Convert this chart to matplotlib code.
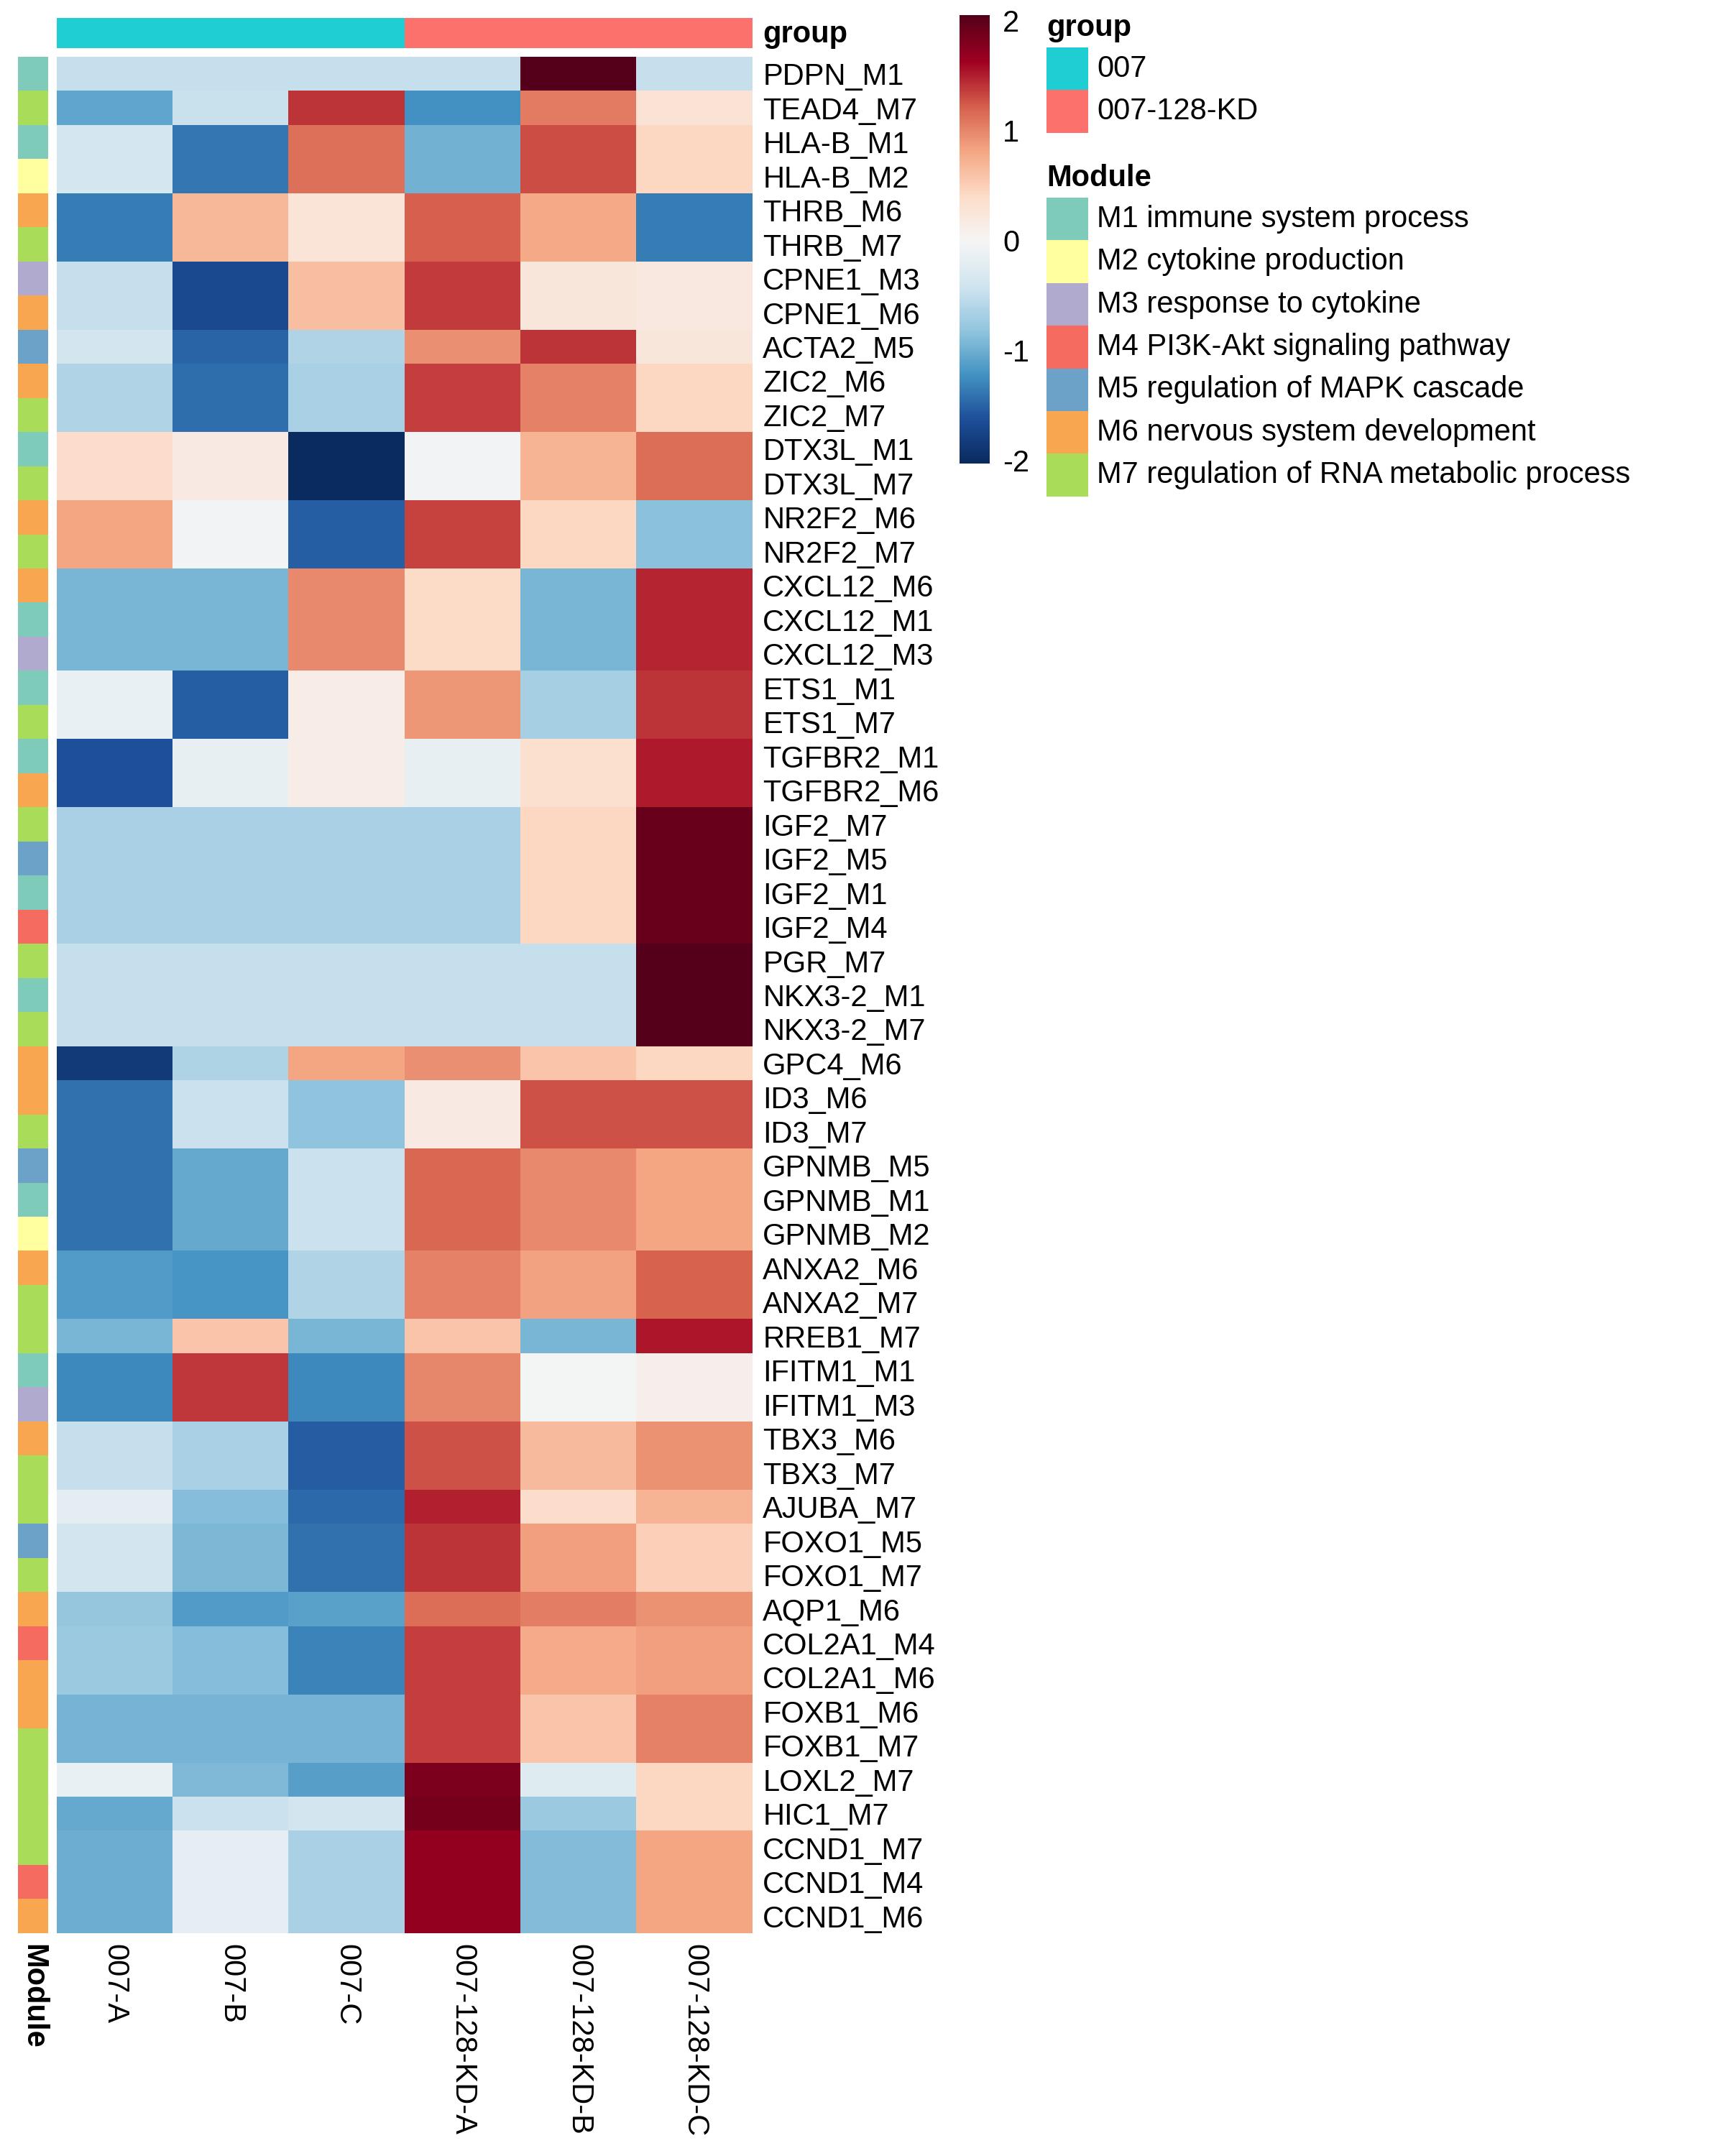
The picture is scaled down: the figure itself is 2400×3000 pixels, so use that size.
import numpy as np
import matplotlib
matplotlib.use("Agg")
import matplotlib.pyplot as plt
import matplotlib.patches as patches
from matplotlib.colors import ListedColormap, Normalize, LinearSegmentedColormap

plt.rcParams["font.family"] = ["Liberation Sans", "DejaVu Sans"]
plt.rcParams["axes.unicode_minus"] = False

samples = ["007-A", "007-B", "007-C", "007-128-KD-A", "007-128-KD-B", "007-128-KD-C"]
sample_group = ["007", "007", "007", "007-128-KD", "007-128-KD", "007-128-KD"]

rows = [
    "PDPN_M1", "TEAD4_M7", "HLA-B_M1", "HLA-B_M2", "THRB_M6", "THRB_M7",
    "CPNE1_M3", "CPNE1_M6", "ACTA2_M5", "ZIC2_M6", "ZIC2_M7", "DTX3L_M1",
    "DTX3L_M7", "NR2F2_M6", "NR2F2_M7", "CXCL12_M6", "CXCL12_M1", "CXCL12_M3",
    "ETS1_M1", "ETS1_M7", "TGFBR2_M1", "TGFBR2_M6", "IGF2_M7", "IGF2_M5",
    "IGF2_M1", "IGF2_M4", "PGR_M7", "NKX3-2_M1", "NKX3-2_M7", "GPC4_M6",
    "ID3_M6", "ID3_M7", "GPNMB_M5", "GPNMB_M1", "GPNMB_M2", "ANXA2_M6",
    "ANXA2_M7", "RREB1_M7", "IFITM1_M1", "IFITM1_M3", "TBX3_M6", "TBX3_M7",
    "AJUBA_M7", "FOXO1_M5", "FOXO1_M7", "AQP1_M6", "COL2A1_M4", "COL2A1_M6",
    "FOXB1_M6", "FOXB1_M7", "LOXL2_M7", "HIC1_M7", "CCND1_M7", "CCND1_M4",
    "CCND1_M6",
]

# z-scores per row (007-A, 007-B, 007-C, KD-A, KD-B, KD-C)
values = [
    [-0.47, -0.47, -0.47, -0.47, 2.05, -0.47],
    [-1.06, -0.46, 1.41, -1.22, 1.05, 0.29],
    [-0.37, -1.38, 1.12, -0.97, 1.29, 0.43],
    [-0.37, -1.38, 1.12, -0.97, 1.29, 0.43],
    [-1.36, 0.67, 0.26, 1.22, 0.79, -1.36],
    [-1.36, 0.67, 0.26, 1.22, 0.79, -1.36],
    [-0.47, -1.69, 0.62, 1.38, 0.23, 0.20],
    [-0.47, -1.69, 0.62, 1.38, 0.23, 0.20],
    [-0.38, -1.50, -0.62, 0.94, 1.41, 0.23],
    [-0.62, -1.43, -0.67, 1.36, 1.02, 0.43],
    [-0.62, -1.43, -0.67, 1.36, 1.02, 0.43],
    [0.37, 0.16, -2.00, -0.03, 0.71, 1.13],
    [0.37, 0.16, -2.00, -0.03, 0.71, 1.13],
    [0.81, -0.03, -1.53, 1.34, 0.43, -0.85],
    [0.81, -0.03, -1.53, 1.34, 0.43, -0.85],
    [-0.94, -0.94, 0.98, 0.40, -0.94, 1.47],
    [-0.94, -0.94, 0.98, 0.40, -0.94, 1.47],
    [-0.94, -0.94, 0.98, 0.40, -0.94, 1.47],
    [-0.12, -1.53, 0.13, 0.89, -0.68, 1.40],
    [-0.12, -1.53, 0.13, 0.89, -0.68, 1.40],
    [-1.62, -0.14, 0.13, -0.14, 0.34, 1.51],
    [-1.62, -0.14, 0.13, -0.14, 0.34, 1.51],
    [-0.66, -0.66, -0.66, -0.66, 0.43, 1.95],
    [-0.66, -0.66, -0.66, -0.66, 0.43, 1.95],
    [-0.66, -0.66, -0.66, -0.66, 0.43, 1.95],
    [-0.66, -0.66, -0.66, -0.66, 0.43, 1.95],
    [-0.47, -0.47, -0.47, -0.47, -0.47, 2.05],
    [-0.47, -0.47, -0.47, -0.47, -0.47, 2.05],
    [-0.47, -0.47, -0.47, -0.47, -0.47, 2.05],
    [-1.85, -0.64, 0.81, 0.95, 0.58, 0.43],
    [-1.42, -0.45, -0.83, 0.16, 1.27, 1.27],
    [-1.42, -0.45, -0.83, 0.16, 1.27, 1.27],
    [-1.42, -1.03, -0.44, 1.17, 0.98, 0.81],
    [-1.42, -1.03, -0.44, 1.17, 0.98, 0.81],
    [-1.42, -1.03, -0.44, 1.17, 0.98, 0.81],
    [-1.15, -1.20, -0.62, 1.03, 0.83, 1.20],
    [-1.15, -1.20, -0.62, 1.03, 0.83, 1.20],
    [-0.94, 0.58, -0.94, 0.58, -0.94, 1.53],
    [-1.27, 1.39, -1.27, 0.99, -0.02, 0.09],
    [-1.27, 1.39, -1.27, 0.99, -0.02, 0.09],
    [-0.47, -0.67, -1.54, 1.28, 0.65, 0.93],
    [-0.47, -0.67, -1.54, 1.28, 0.65, 0.93],
    [-0.19, -0.87, -1.46, 1.49, 0.37, 0.70],
    [-0.38, -0.93, -1.42, 1.40, 0.84, 0.50],
    [-0.38, -0.93, -1.42, 1.40, 0.84, 0.50],
    [-0.79, -1.15, -1.09, 1.13, 1.04, 0.92],
    [-0.77, -0.87, -1.30, 1.36, 0.77, 0.85],
    [-0.77, -0.87, -1.30, 1.36, 0.77, 0.85],
    [-0.96, -0.96, -0.96, 1.36, 0.58, 1.02],
    [-0.96, -0.96, -0.96, 1.36, 0.58, 1.02],
    [-0.12, -0.91, -1.11, 1.82, -0.26, 0.43],
    [-1.03, -0.44, -0.38, 1.87, -0.76, 0.43],
    [-1.00, -0.15, -0.67, 1.69, -0.89, 0.82],
    [-1.00, -0.15, -0.67, 1.69, -0.89, 0.82],
    [-1.00, -0.15, -0.67, 1.69, -0.89, 0.82],
]

group_names = ["007", "007-128-KD"]
group_colors = ["#1FCED3", "#FC716C"]

module_ids = ["M1", "M2", "M3", "M4", "M5", "M6", "M7"]
module_names = [
    "M1 immune system process",
    "M2 cytokine production",
    "M3 response to cytokine",
    "M4 PI3K-Akt signaling pathway",
    "M5 regulation of MAPK cascade",
    "M6 nervous system development",
    "M7 regulation of RNA metabolic process",
]
module_colors = ["#7FCBB9", "#FFFF9F", "#B0AACF", "#F66B60", "#6CA1C8", "#F9A650", "#A8DC59"]

W, H = 2400, 3000
FS = 10.0
VMIN, VMAX = -2.03, 2.05

fig = plt.figure(figsize=(8, 10), dpi=300)


def frac(x0, y0, x1, y1):
    # pixel box -> figure fraction rect
    return [x0 / W, 1 - y1 / H, (x1 - x0) / W, (y1 - y0) / H]


# RdBu-like ramp with deeper ends, as in the original legend
ramp = [(-2.03, "#0A2A5E"), (-1.63, "#1E4F9A"), (-1.22, "#4393C3"), (-0.82, "#92C5DE"),
        (-0.41, "#D1E5F0"), (0.0, "#F5F5F5"), (0.41, "#FDDBC7"), (0.82, "#F4A582"),
        (1.22, "#D6604D"), (1.63, "#A00021"), (2.05, "#55001A")]
cmap = LinearSegmentedColormap.from_list(
    "rdbu_deep", [((v - VMIN) / (VMAX - VMIN), c) for v, c in ramp], N=256)
norm = Normalize(vmin=VMIN, vmax=VMAX)

data = np.array(values)
ax = fig.add_axes(frac(79, 79, 1047, 2690))
im = ax.imshow(data, cmap=cmap, norm=norm, aspect="auto", interpolation="nearest")
for s in ax.spines.values():
    s.set_visible(False)
ax.yaxis.tick_right()
ax.set_yticks(range(len(rows)))
ax.set_yticklabels(rows, fontsize=FS)
ax.set_xticks(range(len(samples)))
ax.set_xticklabels(samples, fontsize=FS, rotation=270, ha="center", va="top")
ax.tick_params(length=0)
ax.tick_params(axis="y", pad=3.4)
ax.tick_params(axis="x", pad=3.6)

# group annotation bar
axg = fig.add_axes(frac(79, 25, 1047, 67))
gidx = np.array([[group_names.index(g) for g in sample_group]])
axg.imshow(gidx, cmap=ListedColormap(group_colors), vmin=0, vmax=1,
           aspect="auto", interpolation="nearest")
axg.axis("off")

# module annotation bar
axm = fig.add_axes(frac(25, 79, 67, 2690))
midx = np.array([[module_ids.index(r.split("_")[-1])] for r in rows])
axm.imshow(midx, cmap=ListedColormap(module_colors), vmin=0, vmax=len(module_ids) - 1,
           aspect="auto", interpolation="nearest")
axm.axis("off")

# colour scale
cax = fig.add_axes(frac(1335, 21, 1377, 645))
cb = fig.colorbar(im, cax=cax, ticks=[-2, -1, 0, 1, 2])
cb.outline.set_visible(False)
cb.ax.tick_params(length=0, labelsize=FS, pad=4.3)

# overlay for annotation titles and legends, in pixel coords
ov = fig.add_axes([0, 0, 1, 1])
ov.set_xlim(0, W)
ov.set_ylim(H, 0)
ov.axis("off")

ov.text(1061, 59, "group", fontsize=FS, fontweight="bold", ha="left", va="baseline")
ov.text(46, 2705, "Module", fontsize=FS, fontweight="bold", rotation=270,
        ha="center", va="top")

ov.text(1456, 50, "group", fontsize=FS, fontweight="bold", ha="left", va="baseline")
box_h = 59.4
for i, (name, col) in enumerate(zip(group_names, group_colors)):
    y = 66 + i * box_h
    ov.add_patch(patches.Rectangle((1456, y), 58, box_h, facecolor=col, edgecolor="none"))
    ov.text(1526, y + box_h / 2, name, fontsize=FS, ha="left", va="center")

ov.text(1456, 259, "Module", fontsize=FS, fontweight="bold", ha="left", va="baseline")
for i, (name, col) in enumerate(zip(module_names, module_colors)):
    y = 275 + i * box_h
    ov.add_patch(patches.Rectangle((1456, y), 58, box_h, facecolor=col, edgecolor="none"))
    ov.text(1526, y + box_h / 2, name, fontsize=FS, ha="left", va="center")

fig.savefig("out.png", dpi=300)
